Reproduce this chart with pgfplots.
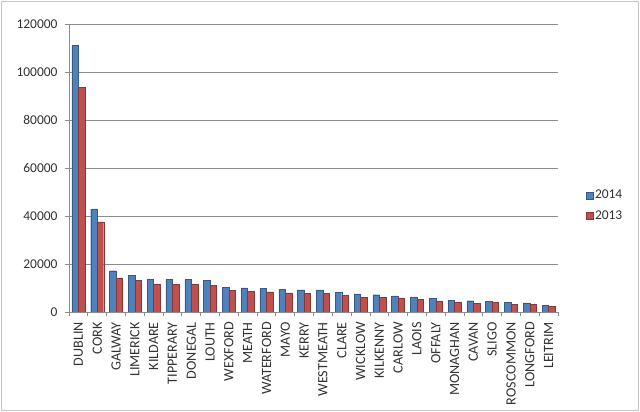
\documentclass[border=0pt]{standalone}
\usepackage{pgfplots}
\usepackage{pgfplotstable}
\pgfplotsset{compat=1.18}
\usepackage{fontspec}
\setmainfont{Carlito}
\definecolor{xblue}{HTML}{4F81BD}
\definecolor{xred}{HTML}{C0504D}
\definecolor{xgrid}{HTML}{8C8C8C}
\pgfplotstableread{
x y2014 y2013
0 111000 93500
1 43000 37500
2 17200 14200
3 15300 13200
4 13700 11700
5 13600 11500
6 13500 11600
7 13300 11200
8 10300 8900
9 10100 8600
10 9800 8400
11 9400 8000
12 9200 7800
13 9200 7800
14 8200 6800
15 7500 6200
16 7200 6000
17 6700 5900
18 6300 5300
19 5700 4600
20 4900 3900
21 4700 3700
22 4400 3900
23 4000 3300
24 3800 3300
25 2900 2300
}\data
\begin{document}
\begin{tikzpicture}
\path[use as bounding box] (0,0) rectangle (640bp,412bp);
\draw[gray!45, line width=1bp] (1.5bp,1.5bp) rectangle (638.5bp,410.5bp);
\begin{axis}[
  at={(69bp,100bp)}, anchor=south west,
  scale only axis, width=489bp, height=288bp,
  ybar=0pt, bar width=6.5bp,
  xmin=-0.5, xmax=25.5,
  ymin=0, ymax=120000,
  ytick={0,20000,...,120000},
  scaled y ticks=false,
  /pgf/number format/fixed,
  /pgf/number format/1000 sep={},
  /pgf/number format/assume math mode=true,
  xtick=data,
  xticklabels={DUBLIN,CORK,GALWAY,LIMERICK,KILDARE,TIPPERARY,DONEGAL,LOUTH,WEXFORD,MEATH,WATERFORD,MAYO,KERRY,WESTMEATH,CLARE,WICKLOW,KILKENNY,CARLOW,LAOIS,OFFALY,MONAGHAN,CAVAN,SLIGO,ROSCOMMON,LONGFORD,LEITRIM},
  xticklabel style={rotate=90, anchor=east, inner sep=0bp, xshift=-6bp, font=\fontsize{14.2}{16}\selectfont},
  minor xtick={-0.5,0.5,...,25.5},
  major x tick style={draw=none},
  axis x line*=bottom, axis y line*=left,
  axis line style={xgrid, line width=0.8bp, -},
  tick style={xgrid, line width=0.8bp},
  tick align=outside,
  major tick length=4bp, minor tick length=4bp,
  ymajorgrids, grid style={xgrid, line width=0.8bp},
  tick label style={font=\fontsize{13.5}{16}\selectfont, text=black!80},
  yticklabel style={xshift=-4bp},
  legend style={at={(1.05,0.37)}, anchor=west, draw=none, fill=none,
    font=\fontsize{13.5}{16}\selectfont, row sep=6bp, text=black!80},
  legend cell align=left,
  legend image code/.code={\fill[#1] (0bp,-3.5bp) rectangle (7bp,3.5bp);},
]
\addplot[fill=xblue, draw=xblue!70!black, line width=0.4bp] table[x=x,y=y2014]{\data};
\addplot[fill=xred, draw=xred!70!black, line width=0.4bp] table[x=x,y=y2013]{\data};
\legend{2014,2013}
\end{axis}
\end{tikzpicture}
\end{document}
